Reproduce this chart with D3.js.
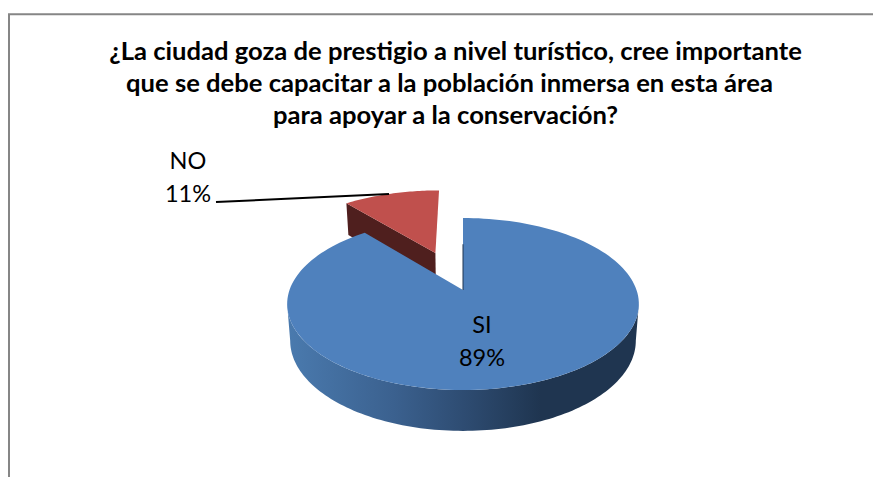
<!DOCTYPE html>
<html><head><meta charset="utf-8">
<script src="https://cdnjs.cloudflare.com/ajax/libs/d3/7.8.5/d3.min.js"></script>
<style>html,body{margin:0;padding:0;background:#fff}svg{display:block}text{font-family:Lato,"Open Sans",sans-serif;fill:#000}</style>
</head><body><svg id="c" width="873" height="477"></svg>
<script>
const categories = ["SI", "NO"];
const shares = [89, 11];
const labels = ["89%", "11%"];
const titleLines = [
  "¿La ciudad goza de prestigio a nivel turístico, cree importante",
  "que se debe capacitar a la población inmersa en esta área",
  "para apoyar a la conservación?"
];
const svg = d3.select("#c");
const arcs = d3.pie().value(d => d).sort(null)(shares);
const k = 0.163;
const top_ = {cx: 463, y0: 290, a: 83.7, b: 173.5};
const bot = {cx: 463, y0: 326, a: 87.8, b: 170.5};
function proj(p, u, v){ const w = 1 + k*v; return [p.cx + p.b*u/w, p.y0 - p.a*v/w]; }
function ring(t0, t1, ox, oy, n){
  return d3.range(n+1).map(i => { const t = t0 + (t1-t0)*i/n; return [ox + Math.sin(t), oy + Math.cos(t)]; });
}
const line = d3.line();
const defs = svg.append("defs");
const grad = defs.append("linearGradient").attr("id","wall").attr("gradientUnits","userSpaceOnUse")
  .attr("x1",288).attr("x2",639).attr("y1",0).attr("y2",0);
[[0,"#4a7aae"],[0.3,"#3b618f"],[0.5,"#2e4c72"],[0.72,"#1f3550"],[1,"#1f3550"]].forEach(s=>grad.append("stop").attr("offset",s[0]).attr("stop-color",s[1]));

svg.append("path").attr("fill","none").attr("stroke","#868686").attr("stroke-width",2)
  .attr("d", line([[9,477],[9,14.3],[873,14.3]]));

const si = arcs[0], no = arcs[1];
const mid = (no.startAngle + no.endAngle)/2, e = 0.506;
const ox = e*Math.sin(mid), oy = e*Math.cos(mid);
const noRim = ring(no.startAngle, no.endAngle, ox, oy, 40);
svg.append("path").attr("fill","#4f1f1e").attr("d", line([
  proj(top_, noRim[0][0], noRim[0][1]), proj(bot, noRim[0][0], noRim[0][1]),
  proj(bot, ox, oy), proj(top_, ox, oy)])+"Z");
svg.append("path").attr("fill","#c0504d").attr("d", line([[ox,oy],...noRim].map(q=>proj(top_,q[0],q[1])))+"Z");

const wt0 = Math.PI - Math.asin(0.9866), wt1 = Math.PI + Math.asin(0.9866);
const wr = ring(wt0, wt1, 0, 0, 120);
svg.append("path").attr("fill","url(#wall)").attr("d", line([
  ...wr.map(q=>proj(top_,q[0],q[1])),
  ...wr.slice().reverse().map(q=>proj(bot,q[0],q[1]))])+"Z");
const siRim = ring(si.startAngle, si.endAngle, 0, 0, 160);
svg.append("path").attr("fill","#4f81bd").attr("d", line([[0,0],...siRim].map(q=>proj(top_,q[0],q[1])))+"Z");
svg.append("path").attr("stroke","#1f3550").attr("stroke-width",1).attr("fill","none").attr("d", line([proj(top_,0,0.6),proj(top_,0,0)]));

const titleX = [455.5, 449.5, 445.5];
svg.append("g").selectAll("text").data(titleLines).join("text")
  .attr("x",(d,i)=>titleX[i]).attr("y",(d,i)=>60+i*32).attr("text-anchor","middle")
  .attr("font-size",25.6).attr("font-weight",700).text(d=>d);

const lab = svg.append("g").attr("font-size",23.5).attr("text-anchor","middle");
lab.append("text").attr("x",482).attr("y",333).text(categories[0]);
lab.append("text").attr("x",482).attr("y",366).text(labels[0]);
lab.append("text").attr("x",188).attr("y",169).text(categories[1]);
lab.append("text").attr("x",188).attr("y",202).text(labels[1]);
svg.append("path").attr("stroke","#000").attr("stroke-width",2).attr("fill","none")
  .attr("d",line([[216,202],proj(top_,ox+Math.sin(no.startAngle+0.33),oy+Math.cos(no.startAngle+0.33))]));
</script></body></html>
